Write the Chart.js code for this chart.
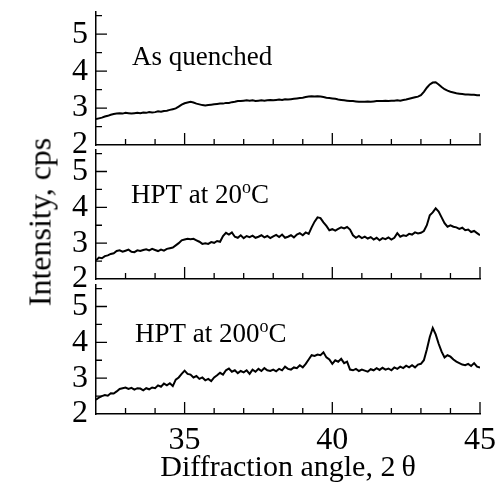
<!DOCTYPE html>
<html>
<head>
<meta charset="utf-8">
<script src="https://cdn.jsdelivr.net/npm/chart.js@4.4.1/dist/chart.umd.min.js"></script>
<style>
  html, body { margin: 0; padding: 0; background: #fff; }
  #fig { position: relative; width: 500px; height: 489px; overflow: hidden; }
  #fig canvas { position: absolute; left: 0; }
  #ylab {
    position: absolute; left: 40px; top: 222px;
    font-family: "Liberation Serif", "Times New Roman", serif; font-size: 32px;
    white-space: nowrap; color: #000;
    transform: translate(-50%, -50%) rotate(-90deg);
  }
</style>
</head>
<body>
<div id="fig">
  <canvas id="p1" width="500" height="165" style="top:0px"></canvas>
  <canvas id="p2" width="500" height="169" style="top:130px"></canvas>
  <canvas id="p3" width="500" height="224" style="top:265px"></canvas>
  <div id="ylab">Intensity, cps</div>
</div>
<script>
// XRD scans, sampled every 0.1 deg from 32 to 45 (2theta)
const ANGLE_START = 32, ANGLE_STEP = 0.1;

const asQuenched = [
  2.70, 2.72, 2.74, 2.77, 2.79, 2.82, 2.84, 2.85, 2.86, 2.85,
  2.87, 2.86, 2.85, 2.86, 2.87, 2.86, 2.88, 2.87, 2.89, 2.88,
  2.89, 2.91, 2.90, 2.92, 2.93, 2.95, 2.97, 2.99, 3.04, 3.09,
  3.13, 3.15, 3.17, 3.15, 3.12, 3.10, 3.08, 3.07, 3.08, 3.09,
  3.10, 3.11, 3.12, 3.12, 3.14, 3.14, 3.16, 3.17, 3.19, 3.19,
  3.20, 3.21, 3.20, 3.21, 3.19, 3.20, 3.21, 3.20, 3.21, 3.22,
  3.21, 3.22, 3.23, 3.22, 3.24, 3.23, 3.24, 3.25, 3.26, 3.27,
  3.28, 3.30, 3.31, 3.32, 3.31, 3.32, 3.31, 3.30, 3.28, 3.27,
  3.26, 3.25, 3.23, 3.22, 3.21, 3.20, 3.19, 3.19, 3.18, 3.17,
  3.17, 3.17, 3.18, 3.17, 3.18, 3.19, 3.19, 3.19, 3.20, 3.19,
  3.20, 3.20, 3.21, 3.20, 3.22, 3.23, 3.25, 3.27, 3.29, 3.31,
  3.35, 3.44, 3.55, 3.64, 3.69, 3.70, 3.64, 3.57, 3.51, 3.47,
  3.44, 3.42, 3.40, 3.39, 3.38, 3.37, 3.37, 3.36, 3.36, 3.35,
  3.35
];

const hpt20 = [
  2.52, 2.60, 2.58, 2.64, 2.66, 2.70, 2.72, 2.78, 2.80, 2.76,
  2.79, 2.82, 2.76, 2.75, 2.80, 2.78, 2.81, 2.83, 2.80, 2.84,
  2.81, 2.78, 2.82, 2.79, 2.84, 2.86, 2.88, 2.94, 3.00, 3.08,
  3.10, 3.12, 3.11, 3.12, 3.08, 3.04, 2.98, 3.00, 2.98, 3.03,
  3.01, 3.06, 3.04, 3.20, 3.29, 3.24, 3.30, 3.18, 3.15, 3.22,
  3.14, 3.20, 3.17, 3.21, 3.15, 3.18, 3.22, 3.16, 3.20, 3.14,
  3.19, 3.23, 3.17, 3.24, 3.15, 3.18, 3.22, 3.16, 3.24, 3.28,
  3.22, 3.30, 3.26, 3.44, 3.60, 3.72, 3.70, 3.58, 3.48, 3.36,
  3.39, 3.35, 3.40, 3.44, 3.41, 3.45, 3.38, 3.22, 3.15, 3.20,
  3.14, 3.18, 3.13, 3.17, 3.10, 3.15, 3.08, 3.14, 3.11, 3.16,
  3.10, 3.15, 3.28, 3.18, 3.22, 3.20, 3.26, 3.24, 3.30, 3.27,
  3.29, 3.34, 3.50, 3.78, 3.86, 3.97, 3.88, 3.72, 3.56, 3.46,
  3.50, 3.46, 3.44, 3.40, 3.43, 3.36, 3.38, 3.31, 3.34, 3.28,
  3.22
];

const hpt200 = [
  2.40, 2.46, 2.50, 2.53, 2.51, 2.58, 2.57, 2.63, 2.70, 2.72,
  2.74, 2.70, 2.73, 2.68, 2.72, 2.71, 2.66, 2.72, 2.69, 2.74,
  2.72, 2.80, 2.76, 2.85, 2.80, 2.86, 2.78, 2.96, 3.02, 3.12,
  3.21, 3.12, 3.10, 3.02, 3.06, 2.98, 3.02, 2.94, 2.98, 2.92,
  3.02, 3.08, 3.15, 3.10, 3.22, 3.27, 3.18, 3.22, 3.14, 3.20,
  3.16, 3.22, 3.12, 3.24, 3.18, 3.26, 3.20, 3.28, 3.22, 3.20,
  3.24, 3.19, 3.26, 3.22, 3.32, 3.26, 3.24, 3.30, 3.28, 3.36,
  3.30, 3.40, 3.52, 3.64, 3.62, 3.66, 3.64, 3.72, 3.58, 3.52,
  3.40, 3.50, 3.46, 3.54, 3.42, 3.46, 3.24, 3.22, 3.26, 3.20,
  3.24, 3.21, 3.18, 3.25, 3.22, 3.28, 3.23, 3.29, 3.24, 3.27,
  3.22, 3.30, 3.26, 3.32, 3.28, 3.35, 3.30, 3.36, 3.30, 3.38,
  3.40, 3.50, 3.80, 4.15, 4.40, 4.22, 3.96, 3.74, 3.58, 3.64,
  3.60, 3.52, 3.46, 3.42, 3.38, 3.36, 3.40, 3.34, 3.42, 3.32,
  3.30
];

// panel captions: plain / superscript / plain parts
const captionQuenched = ['As quenched'];
const caption20 = ['HPT at 20', 'o', 'C'];
const caption200 = ['HPT at 200', 'o', 'C'];

const X_TICK_LABELS = [35, 40, 45];
const X_MINOR_TICKS = [33, 34, 36, 37, 38, 39, 41, 42, 43, 44];
const Y_TICK_LABELS = [2, 3, 4, 5];
const Y_MINOR_TICKS = [2.5, 3.5, 4.5, 5.5];

const FAMILY = '"Liberation Serif", "Times New Roman", serif';

// ticks pointing into the plot, like the original figure
const inwardTicks = {
  id: 'inwardTicks',
  afterDraw(chart) {
    const {ctx, chartArea: a, scales: {x, y}} = chart;
    ctx.save();
    ctx.strokeStyle = '#000';
    ctx.lineWidth = 1.3;
    ctx.beginPath();
    X_TICK_LABELS.forEach(v => { const p = x.getPixelForValue(v); ctx.moveTo(p, a.bottom); ctx.lineTo(p, a.bottom - 12); });
    X_MINOR_TICKS.forEach(v => { const p = x.getPixelForValue(v); ctx.moveTo(p, a.bottom); ctx.lineTo(p, a.bottom - 6); });
    Y_TICK_LABELS.slice(1).forEach(v => { const p = y.getPixelForValue(v); ctx.moveTo(a.left, p); ctx.lineTo(a.left + 11, p); });
    Y_MINOR_TICKS.forEach(v => { const p = y.getPixelForValue(v); ctx.moveTo(a.left, p); ctx.lineTo(a.left + 6, p); });
    ctx.stroke();
    ctx.restore();
  }
};

const panelText = {
  id: 'panelText',
  afterDraw(chart, args, opts) {
    const {ctx, chartArea: a} = chart;
    let x = a.left + opts.dx;
    const y = a.top + opts.dy;
    ctx.save();
    ctx.fillStyle = '#000';
    ctx.textBaseline = 'alphabetic';
    opts.parts.forEach((part, i) => {
      const sup = i % 2 === 1;
      ctx.font = (sup ? '18px ' : '27px ') + FAMILY;
      ctx.fillText(part, x, sup ? y - 10 : y);
      x += ctx.measureText(part).width;
    });
    ctx.restore();
  }
};

function makePanel(id, values, caption, dx, dy, padTop, bottom) {
  const points = values.map((v, i) => ({x: ANGLE_START + i * ANGLE_STEP, y: v}));
  return new Chart(document.getElementById(id), {
    type: 'line',
    data: { datasets: [{ data: points, borderColor: '#000', borderWidth: 2, pointRadius: 0, tension: 0 }] },
    options: {
      responsive: false,
      animation: false,
      layout: { padding: { top: padTop, right: 20, left: 0, bottom: 0 } },
      plugins: {
        legend: { display: false },
        tooltip: { enabled: false },
        panelText: { parts: caption, dx: dx, dy: dy }
      },
      scales: {
        x: {
          type: 'linear', min: 32, max: 45,
          grid: { display: true, drawOnChartArea: false, drawTicks: false },
          border: { display: true, color: '#000', width: 1.5 },
          ticks: { display: bottom, autoSkip: false, maxRotation: 0, padding: 7, color: '#000', font: { family: FAMILY, size: 32 } },
          afterBuildTicks: s => { s.ticks = X_TICK_LABELS.map(v => ({value: v})); },
          afterFit: s => { s.height = bottom ? 75 : 20; s.paddingLeft = 0; s.paddingRight = 0; },
          title: {
            display: bottom, text: 'Diffraction angle, 2\u2009\u03B8', color: '#000',
            font: { family: FAMILY, size: 30 }, padding: { top: 0, bottom: 3 }
          }
        },
        y: {
          min: 2, max: 5.6,
          grid: { display: true, drawOnChartArea: false, drawTicks: false },
          border: { display: true, color: '#000', width: 1.5 },
          ticks: { autoSkip: false, padding: 8, color: '#000', font: { family: FAMILY, size: 32 } },
          afterBuildTicks: s => { s.ticks = Y_TICK_LABELS.map(v => ({value: v})); },
          afterFit: s => { s.width = 96; s.paddingTop = 0; s.paddingBottom = 0; }
        }
      }
    },
    plugins: [inwardTicks, panelText]
  });
}

makePanel('p1', asQuenched, captionQuenched, 36, 53, 12, false);
makePanel('p2', hpt20, caption20, 35, 53, 20, false);
makePanel('p3', hpt200, caption200, 39, 57, 20, true);
</script>
</body>
</html>
